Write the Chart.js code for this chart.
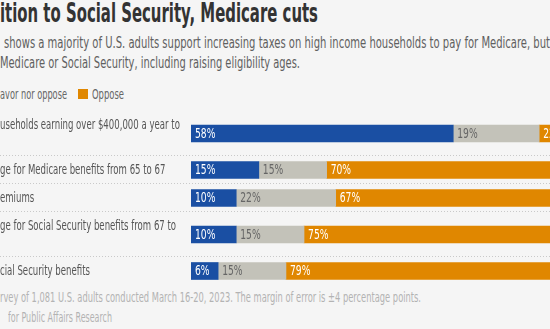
<!DOCTYPE html>
<html>
<head>
<meta charset="utf-8">
<script src="https://cdn.jsdelivr.net/npm/chart.js@4.4.1/dist/chart.umd.min.js"></script>
<style>
  body {
    margin: 0;
    width: 550px;
    height: 329px;
    background: #f5f5f5;
    overflow: hidden;
    position: relative;
    font-family: "DejaVu Sans Condensed", "DejaVu Sans", sans-serif;
  }
  .t { position: absolute; white-space: nowrap; transform-origin: 0 0; }
  #title { left: 0; top: -2px; font-size: 26px; line-height: 30px; font-weight: bold; color: #333; }
  .sub { font-size: 15px; line-height: 20px; color: #606060; }
  .leg { font-size: 14px; line-height: 18px; color: #666; }
  .foot { font-size: 14px; line-height: 18px; color: #b3b3b3; }
  #swatch { position: absolute; left: 78px; top: 89px; width: 10px; height: 10px; background: #e08700; }
  #chartBox { position: absolute; left: 0; top: 111px; width: 550px; height: 174px; }
</style>
</head>
<body>
<div id="title" class="t" data-w="318">ition to Social Security, Medicare cuts</div>
<div class="t sub" data-w="546" style="left:4px;top:33px">shows a majority of U.S. adults support increasing taxes on high income households to pay for Medicare, but</div>
<div class="t sub" data-w="300" style="left:0;top:52.5px">Medicare or Social Security, including raising eligibility ages.</div>
<div class="t leg" data-w="67" style="left:0;top:85px">avor nor oppose</div>
<div id="swatch"></div>
<div class="t leg" data-w="32" style="left:92px;top:85px">Oppose</div>
<div id="chartBox"><canvas id="myChart" width="550" height="174"></canvas></div>
<div class="t foot" data-w="421" style="left:0;top:288px">rvey of 1,081 U.S. adults conducted March 16-20, 2023. The margin of error is ±4 percentage points.</div>
<div class="t foot" data-w="104" style="left:8px;top:308px">for Public Affairs Research</div>

<script>
// visible part of each label, one entry per line ("" = line cut off on the left)
var categories = [
  ["useholds earning over $400,000 a year to", ""],
  ["ge for Medicare benefits from 65 to 67"],
  ["emiums"],
  ["ge for Social Security benefits from 67 to", ""],
  ["cial Security benefits"]
];
var favor = [58, 15, 10, 10, 6];
var neither = [19, 15, 22, 15, 15];
var oppose = [22, 70, 67, 75, 79];

// squeeze the header/footer text to the narrow width of the original font
document.querySelectorAll("[data-w]").forEach(function (el) {
  var w = el.getBoundingClientRect().width;
  el.style.transform = "scaleX(" + (+el.dataset.w / w) + ")";
});

var LINE = 17, PAD = 11;
var rowCenter = [], rowEdge = [], total = 0;
categories.forEach(function (lines) {
  var h = PAD + LINE * lines.length;
  rowCenter.push(total + h / 2);
  total += h;
  rowEdge.push(total);
});

function pts(arr) {
  return arr.map(function (v, i) { return { x: v, y: rowCenter[i] }; });
}

function squeezed(ctx, str, x, y, sx) {
  ctx.save();
  ctx.translate(x, y);
  ctx.scale(sx, 1);
  ctx.fillText(str, 0, 0);
  ctx.restore();
}

var rowPlugin = {
  id: "rows",
  beforeDatasetsDraw: function (chart) {
    var c = chart.ctx, ys = chart.scales.y;
    c.save();
    c.strokeStyle = "#c9c9c9";
    c.lineWidth = 1;
    c.setLineDash([1, 2]);
    for (var i = 0; i < rowEdge.length - 1; i++) {
      var py = Math.round(ys.getPixelForValue(rowEdge[i])) - 0.5;
      c.beginPath();
      c.moveTo(0, py);
      c.lineTo(chart.width, py);
      c.stroke();
    }
    c.restore();
  },
  afterDatasetsDraw: function (chart) {
    var c = chart.ctx, ys = chart.scales.y;
    c.save();
    c.font = "14px 'DejaVu Sans Condensed', 'DejaVu Sans', sans-serif";
    c.textBaseline = "alphabetic";
    chart.data.datasets.forEach(function (ds, di) {
      var meta = chart.getDatasetMeta(di);
      c.fillStyle = di === 1 ? "#666" : "#fff";
      meta.data.forEach(function (bar, i) {
        squeezed(c, ds.data[i].x + "%", bar.base + 4, bar.y + 4, 0.73);
      });
    });
    // category labels
    c.fillStyle = "#555";
    categories.forEach(function (lines, i) {
      var cy = ys.getPixelForValue(rowCenter[i]);
      lines.forEach(function (s, k) {
        var by = cy - (lines.length - 1) * LINE / 2 + k * LINE + 4;
        squeezed(c, s, 0, by, 0.68);
      });
    });
    c.restore();
  }
};

var ctx = document.getElementById("myChart").getContext("2d");
var chart = new Chart(ctx, {
  type: "bar",
  data: {
    datasets: [
      { label: "Favor", data: pts(favor), backgroundColor: "#1a4fa3" },
      { label: "Neither favor nor oppose", data: pts(neither), backgroundColor: "#c3c2b9" },
      { label: "Oppose", data: pts(oppose), backgroundColor: "#e08700" }
    ]
  },
  options: {
    indexAxis: "y",
    responsive: false,
    animation: false,
    datasets: { bar: { barThickness: 17 } },
    layout: { padding: { left: 191, right: 0, top: 0, bottom: 0 } },
    plugins: { legend: { display: false }, tooltip: { enabled: false } },
    scales: {
      x: { type: "linear", stacked: true, min: 0, max: 79.4, display: false },
      y: { type: "linear", stacked: true, offset: false, min: 0, max: total, reverse: true, display: false }
    }
  },
  plugins: [rowPlugin]
});
</script>
</body>
</html>
